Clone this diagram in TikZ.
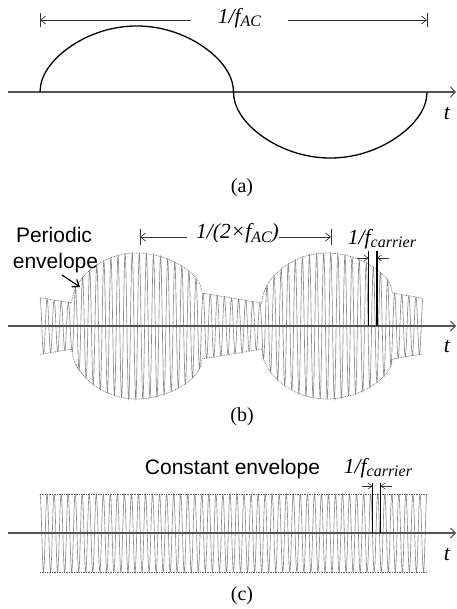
\documentclass[tikz,border=0pt]{standalone}
\usepackage{fontspec}
\setmainfont{Liberation Serif}
\setsansfont{Liberation Sans}
\usetikzlibrary{arrows.meta}
\newcommand\itlbl{\fontsize{21.5}{25}\selectfont\itshape}
\newcommand\sbs[1]{\raisebox{-3pt}{\fontsize{16}{18}\selectfont #1}}
\begin{document}
\begin{tikzpicture}[x=1pt,y=-1pt,
  axis/.style={draw=black!68, line width=1.1pt, -{Straight Barb[length=5pt,width=10pt,line width=0.9pt]}},
  wave/.style={draw=black, line width=1.3pt},
  carrier/.style={draw=black!45, line width=0.65pt},
  envl/.style={draw=black!65, line width=0.7pt, densely dotted},
  dim/.style={draw=black!80, line width=0.7pt},
  dimarr/.style={dim, -{Straight Barb[length=5pt,width=8pt]}},
  markln/.style={draw=black, line width=1.1pt},
  smallarr/.style={draw=black!80, line width=0.6pt, -{Straight Barb[length=4pt,width=6pt]}},
  ptr/.style={draw=black, line width=1.2pt, -{Straight Barb[length=6pt,width=9pt]}},
  itl/.style={font=\itlbl, inner sep=0pt},
  sans/.style={font=\sffamily\fontsize{21}{25}\selectfont, inner sep=0pt},
  subcap/.style={font=\fontsize{20}{24}\selectfont, inner sep=0pt},
  declare function={
    uu(\x)=mod(\x+308,190);
    ll(\x)=23+uu(\x)*0.076923;
    envb(\x)=(uu(\x)<130) ? (ll(\x)+(73-ll(\x))*sqrt(abs(sin(uu(\x)*1.384615)))) : (33-(uu(\x)-130)*0.166667);
    sa(\x)=sin((\x-40)*0.930233);
  }]
\useasboundingbox (0,0) rectangle (456,609);

% ---------------- (a) ----------------
\coordinate (a0) at (8,92);
\coordinate (a9) at (456,92);
\draw[axis] (a0) -- (a9);
\draw[wave] plot[domain=40:427,samples=500]
  (\x,{92-66*sign(sa(\x))*sqrt(abs(sa(\x)))});
\node[itl,anchor=base,inner xsep=27pt] (fac) at (239.5,24) {1/f\sbs{AC}};
\coordinate (da1) at (40,20);
\coordinate (da2) at (427,20);
\draw[dim] ([yshift=-7pt]da1) -- ([yshift=7pt]da1);
\draw[dim] ([yshift=-7pt]da2) -- ([yshift=7pt]da2);
\draw[dimarr] (fac.west |- da1) -- (da1);
\draw[dimarr] (fac.east |- da2) -- (da2);
\node[itl,anchor=base,font=\fontsize{22}{26}\selectfont\itshape] (ta) at (447,120) {t};
\node[subcap,anchor=base] (capa) at (242,193) {(a)};

% ---------------- (b) ----------------
\coordinate (b0) at (8,326);
\coordinate (b9) at (456,326);
\draw[carrier] plot[domain=40:423,samples=1500]
  (\x,{326-envb(\x)*cos(360*mod(\x-40,7.0926)/7.0926)});
\draw[envl] plot[domain=40:423,samples=500] (\x,{326-envb(\x)});
\draw[envl] plot[domain=40:423,samples=500] (\x,{326+envb(\x)});
\draw[axis] (b0) -- (b9);
\node[sans,anchor=base] (per1) at (54,243) {Periodic};
\node[sans,anchor=base] (per2) at (55.5,268) {envelope};
\coordinate (pa1) at (62,275);
\coordinate (pa2) at (80,287);
\draw[ptr] (pa1) -- (pa2);
\node[itl,anchor=base] (f2ac) at (237.5,239) {1/(2×f\sbs{AC})};
\coordinate (db1) at (140,237);
\coordinate (db2) at (331,237);
\draw[dim] ([yshift=-8pt]db1) -- ([yshift=8pt]db1);
\draw[dim] ([yshift=-8pt]db2) -- ([yshift=8pt]db2);
\draw[dimarr] ([xshift=-9pt]f2ac.west |- db1) -- (db1);
\draw[dimarr] (f2ac.east |- db2) -- (db2);
\node[itl,anchor=base] (fcb) at (382,244) {1/f\sbs{carrier}};
\coordinate (bm1t) at (368.5,251);
\coordinate (bm1b) at (368.5,326);
\coordinate (bm2t) at (377,251);
\coordinate (bm2b) at (377,326);
\draw[markln] (bm1t) -- (bm1b);
\draw[markln] (bm2t) -- (bm2b);
\coordinate (ba1) at (357,258);
\coordinate (ba2) at (389,258);
\draw[smallarr] (ba1) -- (bm1t |- ba1);
\draw[smallarr] (ba2) -- (bm2t |- ba2);
\node[itl,anchor=base,font=\fontsize{22}{26}\selectfont\itshape] (tb) at (447,352) {t};
\node[subcap,anchor=base] (capb) at (242,421) {(b)};

% ---------------- (c) ----------------
\coordinate (c0) at (8,533);
\coordinate (c9) at (456,533);
\draw[carrier] plot[domain=40:427,samples=1500]
  (\x,{533-39*cos(360*mod(\x-40,7.036)/7.036)});
\coordinate (ce1) at (40,494);
\coordinate (ce2) at (427,494);
\coordinate (ce3) at (40,572);
\coordinate (ce4) at (427,572);
\draw[envl] (ce1) -- (ce2);
\draw[envl] (ce3) -- (ce4);
\draw[axis] (c0) -- (c9);
\node[sans,anchor=base] (const) at (232.5,474) {Constant envelope};
\node[itl,anchor=base] (fcc) at (378,473) {1/f\sbs{carrier}};
\coordinate (cm1t) at (372.5,483);
\coordinate (cm1b) at (372.5,533);
\coordinate (cm2t) at (380.5,483);
\coordinate (cm2b) at (380.5,533);
\draw[markln] (cm1t) -- (cm1b);
\draw[markln] (cm2t) -- (cm2b);
\coordinate (ca1) at (362,486);
\coordinate (ca2) at (392,486);
\draw[smallarr] (ca1) -- (cm1t |- ca1);
\draw[smallarr] (ca2) -- (cm2t |- ca2);
\node[itl,anchor=base,font=\fontsize{22}{26}\selectfont\itshape] (tc) at (447,560) {t};
\node[subcap,anchor=base] (capc) at (242,600) {(c)};
\end{tikzpicture}
\end{document}
